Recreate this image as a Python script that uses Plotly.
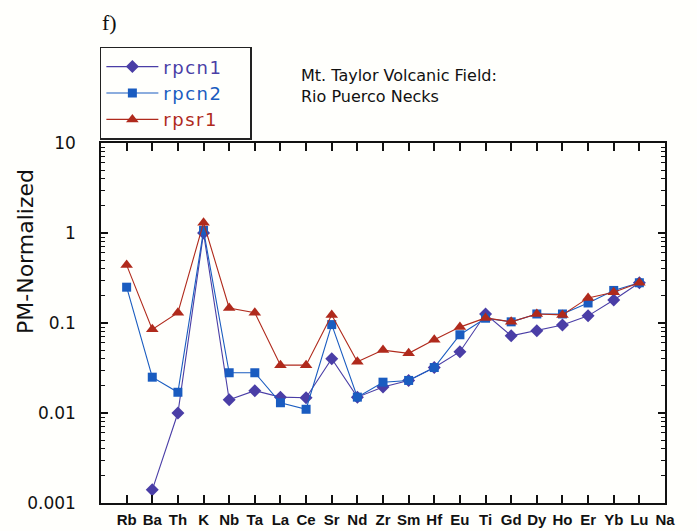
import plotly.graph_objects as go

elements = ["Rb", "Ba", "Th", "K", "Nb", "Ta", "La", "Ce", "Sr", "Nd", "Zr",
            "Sm", "Hf", "Eu", "Ti", "Gd", "Dy", "Ho", "Er", "Yb", "Lu", "Na"]

rpcn1 = [None, 0.0014, 0.010, 1.0, 0.014, 0.0177, 0.015, 0.0148, 0.040, 0.015, 0.0195,
         0.023, 0.032, 0.048, 0.126, 0.072, 0.082, 0.095, 0.120, 0.180, 0.280, None]
rpcn2 = [0.25, 0.025, 0.017, 1.07, 0.028, 0.028, 0.013, 0.011, 0.096, 0.015, 0.022,
         0.023, 0.032, 0.074, 0.113, 0.103, 0.126, 0.126, 0.167, 0.230, 0.280, None]
rpsr1 = [0.44, 0.085, 0.13, 1.3, 0.147, 0.13, 0.034, 0.034, 0.123, 0.037, 0.050,
         0.046, 0.065, 0.090, 0.114, 0.103, 0.126, 0.123, 0.190, 0.220, 0.280, None]

yticks = [0.001, 0.01, 0.1, 1, 10]
ytick_labels = ["0.001", "0.01", "0.1", "1", "10"]
minor_vals = [m * d for d in [0.001, 0.01, 0.1, 1] for m in range(2, 10)]

c1 = "#4a3ea6"
c2 = "#1a5cc0"
c3 = "#b02a1c"

sans = "DejaVu Sans, Verdana, sans-serif"

def lname(txt, col):
    return f"<span style='color:{col};letter-spacing:1.5px'>{txt}</span>    "

fig = go.Figure()
x = list(range(len(elements)))
fig.add_trace(go.Scatter(x=x, y=rpcn1, mode="lines+markers",
                         name=lname("rpcn1", c1),
                         line=dict(color=c1, width=1.1),
                         marker=dict(symbol="diamond", size=10, color=c1)))
fig.add_trace(go.Scatter(x=x, y=rpcn2, mode="lines+markers",
                         name=lname("rpcn2", c2),
                         line=dict(color=c2, width=1.1),
                         marker=dict(symbol="square", size=9, color=c2)))
fig.add_trace(go.Scatter(x=x, y=rpsr1, mode="lines+markers",
                         name=lname("rpsr1", c3),
                         line=dict(color=c3, width=1.1),
                         marker=dict(symbol="triangle-up", size=11, color=c3)))

fig.update_layout(
    width=697, height=531,
    margin=dict(l=101, r=32, t=143, b=28),
    paper_bgcolor="#fffffc", plot_bgcolor="#fffffc",
    font=dict(family=sans, color="#111"),
    showlegend=True,
    legend=dict(x=-0.002, y=1.267, xanchor="left", yanchor="top",
                bordercolor="#222", borderwidth=1.5, bgcolor="#fffffc",
                font=dict(size=18, family=sans), tracegroupgap=0,
                itemwidth=52),
    xaxis=dict(
        range=[-1, 21], tickmode="array", tickvals=x, ticktext=elements,
        showline=True, mirror="ticks", linecolor="#111", linewidth=1.5,
        ticks="inside", ticklen=8, tickcolor="#111", tickwidth=1.5,
        showgrid=False, zeroline=False, ticklabelstandoff=2, automargin=False,
        tickfont=dict(size=15, family="Liberation Sans, Arial", weight="bold"),
    ),
    yaxis=dict(
        type="log", range=[-3, 1], tickmode="array", tickvals=yticks, ticktext=ytick_labels,
        showline=True, mirror="ticks", linecolor="#111", linewidth=1.5,
        ticks="inside", ticklen=7, tickcolor="#111", tickwidth=1.5,
        minor=dict(ticks="inside", ticklen=4, tickcolor="#111", tickwidth=1,
                   tickmode="array", tickvals=minor_vals, showgrid=False),
        showgrid=False, zeroline=False, ticklabelstandoff=20, automargin=False,
        tickfont=dict(size=17, family=sans),
    ),
)
fig.add_annotation(text="f)", xref="paper", yref="paper",
                   x=(100 - 101) / 564, y=(503 - 22) / 360, xanchor="left", yanchor="middle",
                   showarrow=False, font=dict(family="Liberation Serif, serif", size=22))
fig.add_annotation(text="Mt. Taylor Volcanic Field:<br>Rio Puerco Necks", xref="paper", yref="paper",
                   x=(299 - 101) / 564, y=(503 - 86) / 360, xanchor="left", yanchor="middle",
                   align="left", showarrow=False, font=dict(size=16, family=sans))
fig.add_annotation(text="PM-Normalized", xref="paper", yref="paper",
                   x=(25 - 101) / 564, y=(503 - 252) / 360, xanchor="center", yanchor="middle",
                   textangle=-90, showarrow=False, font=dict(size=22, family=sans))

fig.write_html("out.html")
